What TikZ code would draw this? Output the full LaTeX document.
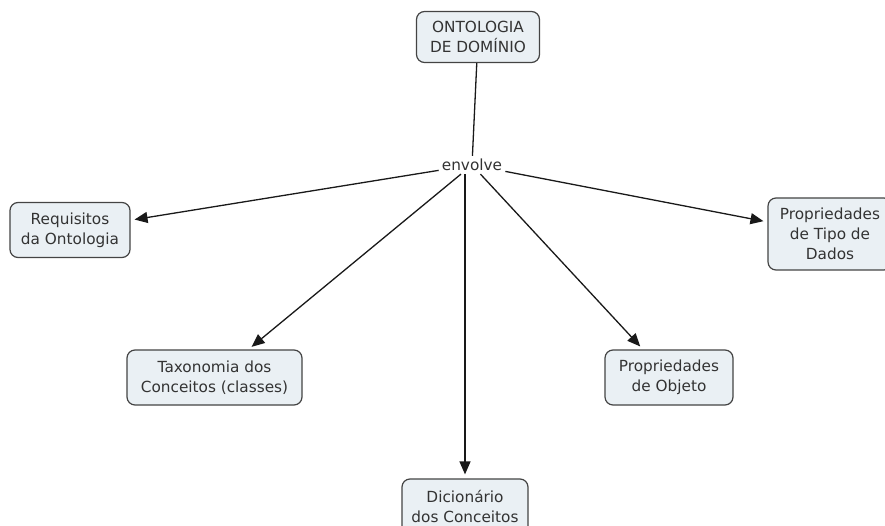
\documentclass[tikz,border=0pt]{standalone}
\usepackage{fontspec}
\setmainfont{DejaVu Sans}
\usetikzlibrary{arrows.meta}
\definecolor{cmfill}{RGB}{234,240,244}
\definecolor{cmdraw}{RGB}{68,68,68}
\tikzset{
  cmconcept/.style = {rectangle, rounded corners=8pt, draw=cmdraw, fill=cmfill,
                      line width=1.2pt, align=center, inner sep=2pt, text=black!80,
                      font=\fontsize{15.3}{20}\selectfont},
  cmlink/.style    = {inner sep=3pt, text=black!80, font=\fontsize{15.3}{20}\selectfont},
  cmline/.style    = {draw=black!90, line width=1.3pt},
  cmarrow/.style   = {cmline, -{Triangle[length=13pt,width=11pt]}, shorten >=4pt},
}

\begin{document}
\begin{tikzpicture}[x=1pt, y=-1pt]
  \useasboundingbox (0,0) rectangle (885,526);

  \node[cmconcept, minimum width=123pt, minimum height=51pt] (dom) at (478,37)    {ONTOLOGIA\\DE DOMÍNIO};
  \node[cmlink] (env) at (472,165) {envolve};

  \node[cmconcept, minimum width=120pt, minimum height=55pt] (req) at (70,230)    {Requisitos\\da Ontologia};
  \node[cmconcept, minimum width=124pt, minimum height=72pt] (dad) at (830,234)   {Propriedades\\de Tipo de\\Dados};
  \node[cmconcept, minimum width=175pt, minimum height=55pt] (tax) at (214.5,377.5) {Taxonomia dos\\Conceitos (classes)};
  \node[cmconcept, minimum width=128pt, minimum height=55pt] (obj) at (669,377.5) {Propriedades\\de Objeto};
  \node[cmconcept, minimum width=126pt, minimum height=55pt] (dic) at (465,506.5) {Dicionário\\dos Conceitos};

  \draw[cmline] (dom) -- (env);
  \draw[cmarrow] (env) -- (req);
  \draw[cmarrow] (env) -- (dad);
  \draw[cmarrow] (env) -- (tax);
  \draw[cmarrow] (env) -- (obj);
  \draw[cmarrow] (env.south -| dic) -- (dic);
\end{tikzpicture}
\end{document}
